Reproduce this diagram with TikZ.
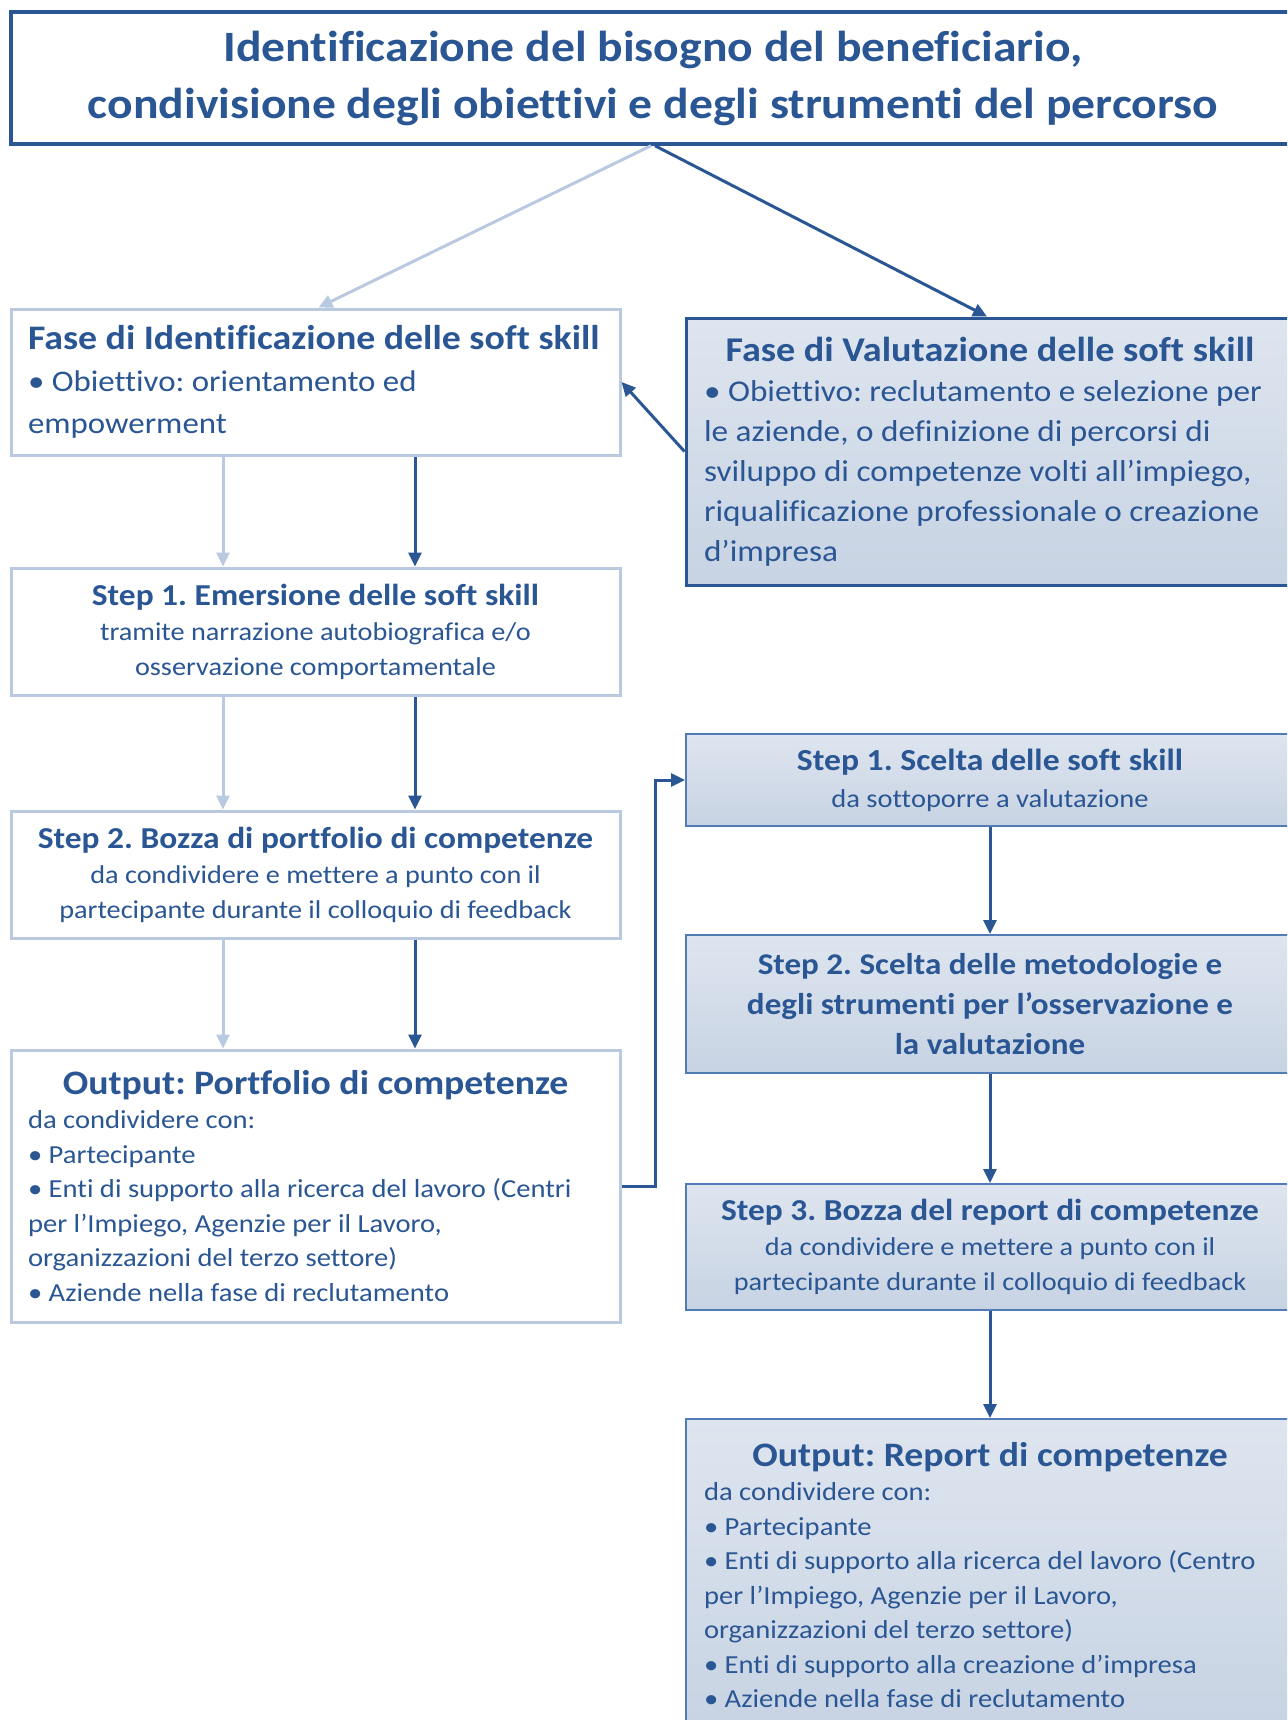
\documentclass[tikz,border=0pt]{standalone}
\usepackage{fontspec}
\setmainfont{Carlito}[FakeStretch=1.1,Ligatures=NoCommon]
\usetikzlibrary{arrows.meta}
\definecolor{dk}{RGB}{42,86,148}
\definecolor{lt}{RGB}{185,202,224}
\definecolor{md}{RGB}{82,124,184}
\definecolor{ftop}{RGB}{222,229,239}
\definecolor{fbot}{RGB}{199,211,227}
\newcommand\fz[2]{\fontsize{#1}{#2}\selectfont\frenchspacing}
\newcommand\rigidsp{\spaceskip=\fontdimen2\font\relax\xspaceskip=\fontdimen2\font\relax}
\begin{document}
\begin{tikzpicture}[x=1pt,y=-1pt,
  every node/.style={text=dk},
  topbox/.style={draw=dk, line width=3.5pt, fill=white, inner sep=0pt,
    minimum width=1284pt, minimum height=132pt, align=center,
    font=\fz{43.3}{57}\bfseries},
  lbox/.style={draw=lt, line width=3pt, fill=white, inner xsep=17pt, inner ysep=0pt,
    text width=575pt, minimum height=#1},
  rbox/.style={draw=md, line width=2pt, top color=ftop, bottom color=fbot,
    inner xsep=18pt, inner ysep=0pt, text width=572pt, minimum height=#1},
  rphase/.style={rbox=#1, draw=dk, line width=3pt},
  tip/.style={-{Triangle[length=14pt,width=13pt]}},
  lar/.style={draw=lt, line width=3pt, tip},
  dar/.style={draw=dk, line width=3pt, tip}
]
\clip (0,0) rectangle (1287,1720);
\fill[white] (0,0) rectangle (1287,1720);

% top box
\node[topbox] (top) at (653,78)
  {Identificazione del bisogno del beneficiario,\\
   condivisione degli obiettivi e degli strumenti del percorso};

% left column
\node[lbox=146pt, align=flush left] (L1) at (315.5,382)
  {{\fz{34.4}{42}\bfseries\rigidsp\mbox{Fase di Identificazione delle soft skill}\par}
   {\fz{29.9}{42}\rigidsp • Obiettivo: orientamento ed\\ empowerment\par}};

\node[lbox=127pt, align=flush center] (L2) at (315.5,631.5)
  {{\fz{30.4}{36}\bfseries\rigidsp Step 1. Emersione delle soft skill\par}
   {\fz{25.7}{35}\rigidsp tramite narrazione autobiografica e/o\\ osservazione comportamentale\par}};

\node[lbox=127pt, align=flush center] (L3) at (315.5,874.5)
  {{\fz{30.4}{36}\bfseries\rigidsp Step 2. Bozza di portfolio di competenze\par}
   {\fz{25.7}{35}\rigidsp da condividere e mettere a punto con il\\ partecipante durante il colloquio di feedback\par}};

\node[lbox=272pt, align=flush left] (L4) at (315.5,1186)
  {{\centering\fz{34.3}{40}\bfseries\rigidsp Output: Portfolio di competenze\par}
   {\fz{26}{34.5}\rigidsp da condividere con:\\
   • Partecipante\\
   • Enti di supporto alla ricerca del lavoro (Centri\\
   per l’Impiego, Agenzie per il Lavoro,\\
   organizzazioni del terzo settore)\\
   • Aziende nella fase di reclutamento\par}};

% right column
\node[rphase=267pt, align=flush left] (R0) at (990,451.5)
  {{\centering\fz{34.7}{42}\bfseries\rigidsp Fase di Valutazione delle soft skill\par}
   {\fz{30.2}{40}\rigidsp • Obiettivo: reclutamento e selezione per\\
   le aziende, o definizione di percorsi di\\
   sviluppo di competenze volti all’impiego,\\
   riqualificazione professionale o creazione\\
   d’impresa\par}};

\node[rbox=92pt, align=flush center] (R1) at (990,780)
  {{\fz{30.6}{36}\bfseries\rigidsp Step 1. Scelta delle soft skill\par}
   {\fz{25.9}{37}\rigidsp da sottoporre a valutazione\par}};

\node[rbox=138pt, align=flush center] (R2) at (990,1004)
  {{\fz{30.1}{40}\bfseries\rigidsp Step 2. Scelta delle metodologie e\\
    degli strumenti per l’osservazione e\\ la valutazione\par}};

\node[rbox=126pt, align=flush center] (R3) at (990,1247)
  {{\fz{30.4}{36}\bfseries\rigidsp Step 3. Bozza del report di competenze\par}
   {\fz{25.7}{35}\rigidsp da condividere e mettere a punto con il\\ partecipante durante il colloquio di feedback\par}};

\node[rbox=312pt, align=flush left] (R4) at (990,1575)
  {{\centering\fz{34.3}{40}\bfseries\rigidsp Output: Report di competenze\par}
   {\fz{26}{34.5}\rigidsp da condividere con:\\
   • Partecipante\\
   • Enti di supporto alla ricerca del lavoro (Centro\\
   per l’Impiego, Agenzie per il Lavoro,\\
   organizzazioni del terzo settore)\\
   • Enti di supporto alla creazione d’impresa\\
   • Aziende nella fase di reclutamento\par}};

% connectors
\draw[lar] ([xshift=-2pt]top.south) -- ([xshift=3pt]L1.north);
\draw[dar] ([xshift=2pt]top.south) -- ([xshift=-3pt]R0.north);
\draw[dar] (R0.west) -- (L1.east);

\foreach \a/\b in {L1/L2,L2/L3,L3/L4}{
  \draw[lar] ([xshift=-92.5pt]\a.south) -- ([xshift=-92.5pt]\b.north);
  \draw[dar] ([xshift=99.5pt]\a.south) -- ([xshift=99.5pt]\b.north);
}
\foreach \a/\b in {R1/R2,R2/R3,R3/R4}{
  \draw[dar] (\a.south) -- (\b.north);
}
\draw[dar] (L4.east) -- ++(34,0) |- (R1.west);
\end{tikzpicture}
\end{document}
